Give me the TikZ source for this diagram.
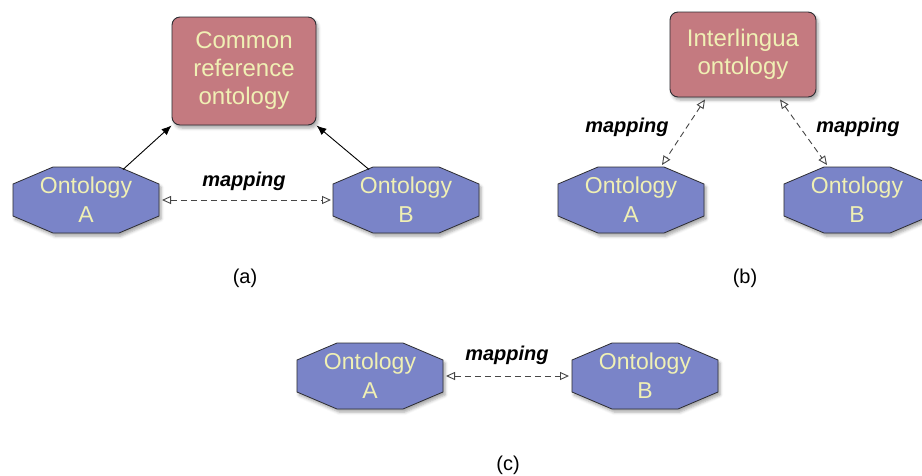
\documentclass[tikz,border=0pt]{standalone}
\usepackage{fontspec}
\setmainfont{Liberation Sans}
\usetikzlibrary{arrows.meta,shadows.blur,calc}
\definecolor{boxred}{RGB}{196,122,128}
\definecolor{octblue}{RGB}{122,132,200}
\definecolor{paletext}{RGB}{240,240,180}
\definecolor{edgegray}{RGB}{45,45,50}
\definecolor{dashgray}{RGB}{70,70,70}
\tikzset{
  refbox/.style={draw=edgegray, line width=0.9pt, fill=boxred, rounded corners=8pt,
    text=paletext, align=center, inner sep=0pt,
    font=\fontsize{24}{28}\selectfont,
    blur shadow={shadow xshift=2pt, shadow yshift=-3pt, shadow blur radius=3pt, shadow opacity=35}},
  octpath/.style={draw=edgegray, line width=0.8pt, fill=octblue, line join=miter,
    blur shadow={shadow xshift=2pt, shadow yshift=-3pt, shadow blur radius=3pt, shadow opacity=35}},
  onto/.style={shape=rectangle, minimum width=146pt, minimum height=66pt, inner sep=0pt, outer sep=0pt,
    text=paletext, align=center, font=\fontsize{23}{29}\selectfont},
  solidarrow/.style={draw=black, line width=0.9pt, -{Latex[length=10pt,width=8pt]}},
  maparrow/.style={draw=dashgray, line width=0.9pt, dash pattern=on 6pt off 4pt,
    {Triangle[open,length=9pt,width=8pt]}-{Triangle[open,length=9pt,width=8pt]}},
  maplabel/.style={font=\fontsize{20}{24}\selectfont\bfseries\itshape, text=black, inner sep=0pt},
  caption/.style={font=\fontsize{20}{24}\selectfont, inner sep=0pt}
}
\newcommand{\ontologynode}[3]{%
  \path[octpath, shift={(#2)}] (-73,-16) -- (-33,-33) -- (33,-33) -- (73,-16) -- (73,16) -- (33,33) -- (-33,33) -- (-73,16) -- cycle;
  \node[onto] (#1) at (#2) {#3};}
\begin{document}
\begin{tikzpicture}[x=1pt,y=-1pt]
\useasboundingbox (0,0) rectangle (922,475);
% ---- (a)
\node[refbox, minimum width=144pt, minimum height=108pt] (C) at (244,71) {Common\\reference\\ontology};
\ontologynode{aA}{86,200}{Ontology\\A}
\ontologynode{aB}{406,200}{Ontology\\B}
\draw[solidarrow] ([xshift=37pt,yshift=-2.5pt]aA.north) -- (C.south west);
\draw[solidarrow] ([xshift=-37pt,yshift=-2.5pt]aB.north) -- (C.south east);
\draw[maparrow, shorten <=3pt, shorten >=2pt] (aA.east) -- (aB.west);
\node[maplabel] (ml1) at (244,181) {mapping};
\node[caption] (capa) at (245,278) {(a)};
% ---- (b)
\node[refbox, minimum width=146pt, minimum height=85pt] (I) at (743,54.5) {Interlingua\\ontology};
\ontologynode{bA}{631,200}{Ontology\\A}
\ontologynode{bB}{857,200}{Ontology\\B}
\draw[maparrow] ([xshift=-38pt,yshift=-2pt]I.south) -- ([xshift=31pt,yshift=2pt]bA.north);
\draw[maparrow] ([xshift=37pt,yshift=-2pt]I.south) -- ([xshift=-30pt,yshift=2pt]bB.north);
\node[maplabel] (ml2) at (627,127) {mapping};
\node[maplabel] (ml3) at (858,127) {mapping};
\node[caption] (capb) at (745,278) {(b)};
% ---- (c)
\ontologynode{cA}{370,376}{Ontology\\A}
\ontologynode{cB}{645,376}{Ontology\\B}
\draw[maparrow, shorten <=3pt, shorten >=3pt] (cA.east) -- (cB.west);
\node[maplabel] (ml4) at (507,355) {mapping};
\node[caption] (capc) at (508,465) {(c)};
\end{tikzpicture}
\end{document}
